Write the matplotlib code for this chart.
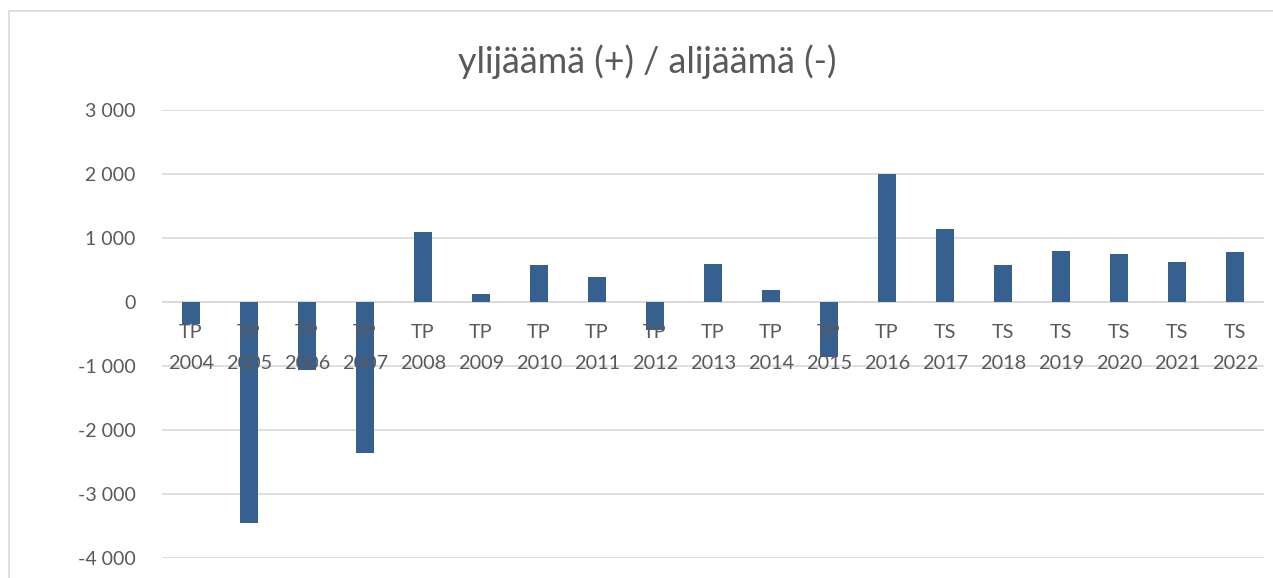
import matplotlib
matplotlib.use("Agg")
import matplotlib.pyplot as plt
import matplotlib.transforms as mtransforms
from matplotlib.patches import Rectangle
import numpy as np

# values
kind = ["TP"] * 13 + ["TS"] * 6
years = list(range(2004, 2023))
values = [-340, -3460, -1070, -2365, 1100, 130, 580, 390, -440, 600,
          190, -865, 2000, 1135, 580, 790, 750, 620, 780]
yticks = [-4000, -3000, -2000, -1000, 0, 1000, 2000, 3000]

labels = [f"{k}\n{y}" for k, y in zip(kind, years)]

bar_color = "#36608F"
text_color = "#595959"
grid_color = "#D9D9D9"

plt.rcParams["font.family"] = ["Lato", "DejaVu Sans"]

fig = plt.figure(figsize=(12.73, 5.78), dpi=100)
# outer chart frame, runs off the right and bottom edge like the screenshot
fig.patches.append(Rectangle((9 / 1273, -0.1), 1.2, 1 - 11 / 578 + 0.1,
                             transform=fig.transFigure, fill=False,
                             edgecolor=grid_color, linewidth=1.2))

ax = fig.add_axes([162 / 1273, 1 - 558 / 578, (1264 - 162) / 1273, (558 - 110) / 578])

x = np.arange(len(values))
ax.bar(x, values, width=0.3, color=bar_color, zorder=2)

ax.set_xlim(-0.5, len(values) - 0.5)
ax.set_ylim(-4000, 3000)
ax.set_yticks(yticks)
ax.set_yticklabels([f"{v:,}".replace(",", " ") for v in yticks])
ax.yaxis.grid(True, color=grid_color, linewidth=1.2)
ax.yaxis.set_zorder(0.5)

# category labels hang just below the zero line, on top of the bars
ax.set_xticks([])
below = mtransforms.offset_copy(ax.transData, fig=fig, x=0, y=-22, units="dots")
for xi, lab in zip(x, labels):
    ax.text(xi, 0, lab, transform=below, ha="center", va="top",
            fontsize=14.3, color=text_color, linespacing=2.0, zorder=5)

ax.axhline(0, color=grid_color, linewidth=1.2, zorder=1)
for s in ["left", "right", "top", "bottom"]:
    ax.spines[s].set_visible(False)

ax.tick_params(axis="y", length=0, labelsize=14, colors=text_color, pad=19)

fig.text(647 / 1273, 1 - 62 / 578, "ylijäämä (+) / alijäämä (-)",
         ha="center", va="center", fontsize=25.8, color=text_color)

fig.savefig("out.png", dpi=100)
